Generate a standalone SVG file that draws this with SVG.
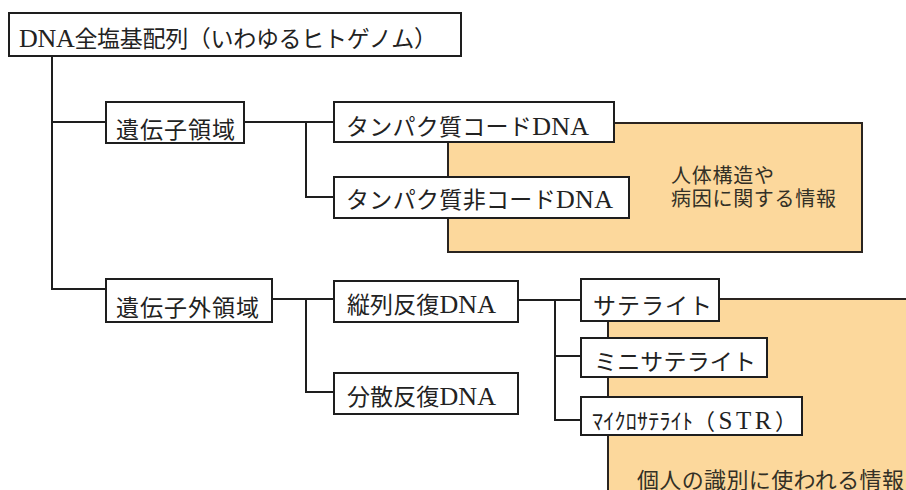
<svg xmlns="http://www.w3.org/2000/svg" width="906" height="490" viewBox="0 0 906 490">
<style>
.bg{fill:#ffffff}
.box{fill:#ffffff;stroke:#1e1e1e;stroke-width:2}
.panel{fill:#fcd89c;stroke:#2a2420;stroke-width:2}
.conn{fill:none;stroke:#1e1e1e;stroke-width:2}
.t{font-family:"Liberation Serif","Noto Sans CJK JP",serif;font-size:23px;fill:#222222}
.l{font-size:26px}
.p{font-family:"Noto Sans CJK JP",sans-serif;font-size:20px;fill:#333026}
</style>
<rect class="bg" x="0" y="0" width="906" height="490"/>
<g id="panel-body">
<rect class="panel" x="448" y="123" width="414" height="129"/>
<text class="p" x="671" y="183" textLength="103">人体構造や</text>
<text class="p" x="671" y="206" textLength="165">病因に関する情報</text>
</g>
<g id="panel-id">
<rect class="panel" x="608" y="299" width="320" height="220"/>
<text class="p" x="637" y="488" style="font-size:22px" textLength="267">個人の識別に使われる情報</text>
</g>
<g id="connectors">
<path class="conn" d="M52 56 V289 H106"/>
<path class="conn" d="M52 122 H106"/>
<path class="conn" d="M244 122 H334"/>
<path class="conn" d="M306 122 V197 H334"/>
<path class="conn" d="M272 299 H334"/>
<path class="conn" d="M306 299 V392 H334"/>
<path class="conn" d="M518 300 H581"/>
<path class="conn" d="M555 300 V420 H581"/>
<path class="conn" d="M555 356 H581"/>
</g>
<g id="root">
<rect class="box" x="9" y="13" width="452" height="43"/>
<text class="t" x="19" y="47" textLength="418"><tspan class="l">DNA</tspan>全塩基配列（いわゆるヒトゲノム）</text>
</g>
<g id="gene-region">
<rect class="box" x="106" y="102" width="138" height="41"/>
<text class="t" x="116" y="138" textLength="119">遺伝子領域</text>
</g>
<g id="protein-coding">
<rect class="box" x="334" y="102" width="280" height="40"/>
<text class="t" x="346" y="135" textLength="243">タンパク質コード<tspan class="l">DNA</tspan></text>
</g>
<g id="protein-noncoding">
<rect class="box" x="334" y="177" width="295" height="41"/>
<text class="t" x="346" y="208" textLength="267">タンパク質非コード<tspan class="l">DNA</tspan></text>
</g>
<g id="extragenic-region">
<rect class="box" x="106" y="279" width="166" height="43"/>
<text class="t" x="116" y="316" textLength="143">遺伝子外領域</text>
</g>
<g id="tandem-repeat">
<rect class="box" x="334" y="281" width="184" height="41"/>
<text class="t" x="347" y="313" textLength="149">縦列反復<tspan class="l">DNA</tspan></text>
</g>
<g id="interspersed-repeat">
<rect class="box" x="334" y="373" width="184" height="41"/>
<text class="t" x="347" y="405" textLength="149">分散反復<tspan class="l">DNA</tspan></text>
</g>
<g id="satellite">
<rect class="box" x="581" y="279" width="138" height="42"/>
<text class="t" x="593" y="314" textLength="119">サテライト</text>
</g>
<g id="minisatellite">
<rect class="box" x="581" y="338" width="186" height="39"/>
<text class="t" x="594" y="370" textLength="162">ミニサテライト</text>
</g>
<g id="microsatellite">
<rect class="box" x="581" y="397" width="221" height="38"/>
<text class="t" x="592" y="429" style="font-size:22px"><tspan x="592" textLength="101">ﾏｲｸﾛｻﾃﾗｲﾄ</tspan><tspan x="693" textLength="104">（<tspan class="l" style="font-size:25px">STR</tspan>）</tspan></text>
</g>
</svg>
